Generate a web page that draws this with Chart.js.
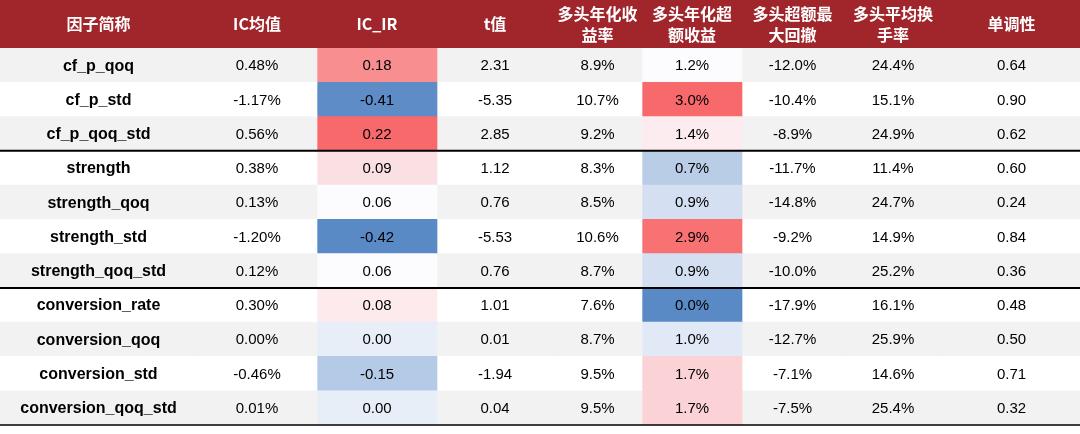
<!DOCTYPE html>
<html><head><meta charset="utf-8">
<script src="https://cdn.jsdelivr.net/npm/chart.js@4"></script>
<style>body{margin:0;background:#fff}#w{width:1080px;height:434px}</style>
</head><body><div id="w"><canvas id="c"></canvas></div>
<script>
const headers=[["因子简称"],["IC均值"],["IC_IR"],["t值"],["多头年化收","益率"],["多头年化超","额收益"],["多头超额最","大回撤"],["多头平均换","手率"],["单调性"]];
const factors=["cf_p_qoq","cf_p_std","cf_p_qoq_std","strength","strength_qoq","strength_std","strength_qoq_std","conversion_rate","conversion_qoq","conversion_std","conversion_qoq_std"];
const icMean=["0.48%","-1.17%","0.56%","0.38%","0.13%","-1.20%","0.12%","0.30%","0.00%","-0.46%","0.01%"];
const icIR=[0.18,-0.41,0.22,0.09,0.06,-0.42,0.06,0.08,0.00,-0.15,0.00];
const tVal=[2.31,-5.35,2.85,1.12,0.76,-5.53,0.76,1.01,0.01,-1.94,0.04];
const annRet=[8.9,10.7,9.2,8.3,8.5,10.6,8.7,7.6,8.7,9.5,9.5];
const excess=[1.2,3.0,1.4,0.7,0.9,2.9,0.9,0.0,1.0,1.7,1.7];
const maxDD=[-12.0,-10.4,-8.9,-11.7,-14.8,-9.2,-10.0,-17.9,-12.7,-7.1,-7.5];
const turnover=[24.4,15.1,24.9,11.4,24.7,14.9,25.2,16.1,25.9,14.6,25.4];
const mono=[0.64,0.90,0.62,0.60,0.24,0.84,0.36,0.48,0.50,0.71,0.32];

const edges=[0,197,317,437,553,642,742,843,943,1080];
const cols=[
  factors, icMean, icIR.map(v=>v.toFixed(2)), tVal.map(v=>v.toFixed(2)),
  annRet.map(v=>v.toFixed(1)+"%"), excess.map(v=>v.toFixed(1)+"%"),
  maxDD.map(v=>v.toFixed(1)+"%"), turnover.map(v=>v.toFixed(1)+"%"), mono.map(v=>v.toFixed(2))
];
function lerp(a,b,t){return a.map((x,i)=>Math.round(x+(b[i]-x)*t));}
function scale(vals){
  const s=[...vals].sort((a,b)=>a-b),mn=s[0],mx=s[s.length-1],md=s[Math.floor(s.length/2)];
  const lo=[90,138,198],mid=[252,252,255],hi=[248,105,107];
  return vals.map(v=>{let c=v>=md?lerp(mid,hi,mx===md?0:(v-md)/(mx-md)):lerp(mid,lo,(md-v)/(md-mn));return `rgb(${c})`;});
}
const rowBg=factors.map((f,i)=>i%2===0?'#f2f2f2':'#ffffff');
const colColors=cols.map((c,j)=>j===2?scale(icIR):j===5?scale(excess):rowBg);
const datasets=cols.map((c,j)=>({data:factors.map(()=>[edges[j],edges[j+1]]),backgroundColor:colColors[j],borderWidth:0,barPercentage:1,categoryPercentage:1,grouped:false,texts:c}));
const FONT='"Liberation Sans", Arial, "Noto Sans CJK SC", sans-serif';
const plug={id:'tbl',
 afterDatasetsDraw(ch){
  const ctx=ch.ctx,x=ch.scales.x,y=ch.scales.y,a=ch.chartArea;
  ctx.save();
  // header
  ctx.fillStyle='#a0262c';ctx.fillRect(0,0,ch.width,a.top);
  ctx.fillStyle='#fff';ctx.textAlign='center';ctx.textBaseline='middle';
  ctx.font='bold 16px "Noto Sans CJK SC", '+FONT;
  headers.forEach((h,j)=>{const cx=(x.getPixelForValue(edges[j])+x.getPixelForValue(edges[j+1]))/2;
    if(h.length===1)ctx.fillText(h[0],cx,a.top/2);else{ctx.fillText(h[0],cx,a.top/2-10);ctx.fillText(h[1],cx,a.top/2+11);}});
  // cells text
  ctx.fillStyle='#000';
  ch.data.datasets.forEach((d,j)=>{ch.getDatasetMeta(j).data.forEach((el,i)=>{
    ctx.font=(j===0?'bold 16px ':'15px ')+FONT;
    const p=el.getCenterPoint();ctx.fillText(d.texts[i],p.x,p.y+1);});});
  // separators
  ctx.strokeStyle='#000';ctx.lineWidth=2;
  [2.5,6.5].forEach(v=>{const py=y.getPixelForValue(v);ctx.beginPath();ctx.moveTo(0,py);ctx.lineTo(ch.width,py);ctx.stroke();});
  ctx.lineWidth=1.5;const pb=a.bottom;ctx.beginPath();ctx.moveTo(0,pb);ctx.lineTo(ch.width,pb);ctx.stroke();
  ctx.restore();
 }};
new Chart(document.getElementById('c'),{type:'bar',data:{labels:factors,datasets},
 options:{indexAxis:'y',responsive:true,maintainAspectRatio:false,animation:false,
  layout:{padding:{top:48,bottom:9,left:0,right:0}},
  plugins:{legend:{display:false},tooltip:{enabled:false}},
  scales:{x:{type:'linear',min:0,max:1080,display:false},y:{display:false,offset:true}}},
 plugins:[plug]});
</script></body></html>
